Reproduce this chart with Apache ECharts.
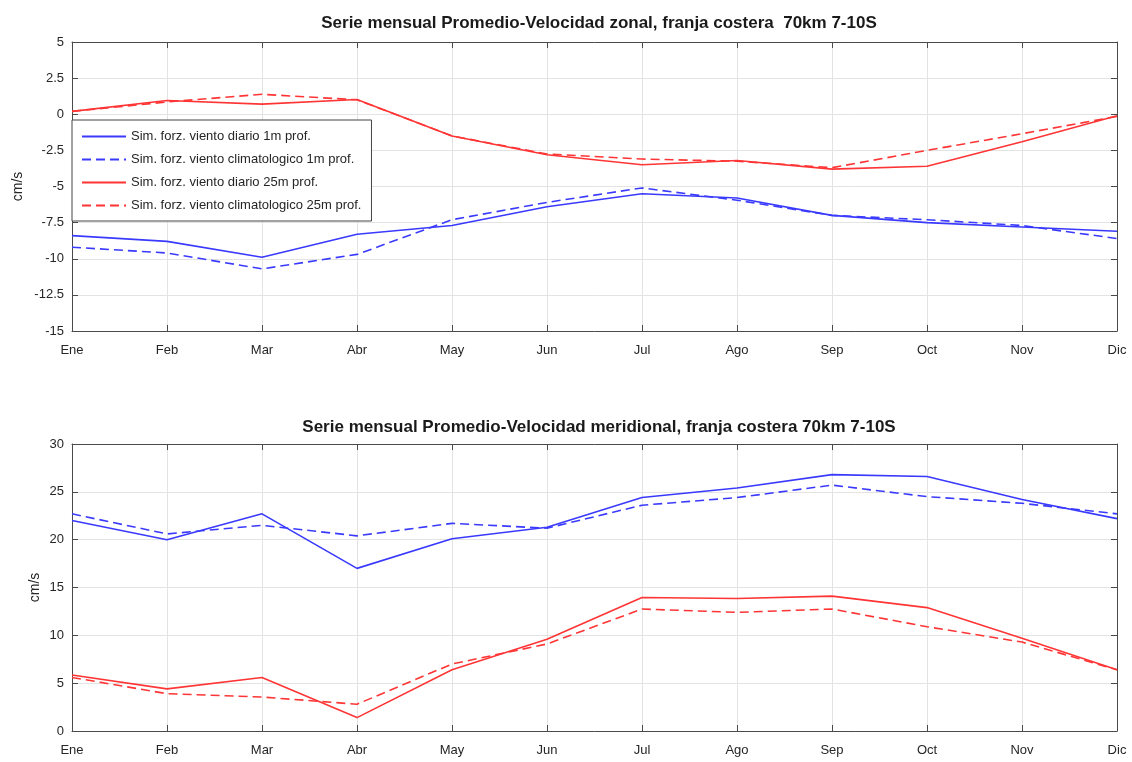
<!DOCTYPE html>
<html>
<head>
<meta charset="utf-8">
<script src="https://cdn.jsdelivr.net/npm/echarts@6/dist/echarts.min.js"></script>
<style>
  html, body { margin: 0; padding: 0; background: #fff; }
  #chart { width: 1132px; height: 762px; }
</style>
</head>
<body>
<div id="chart"></div>
<script>
// Monthly series, coastal strip 70 km, 7-10S
const months = ['Ene', 'Feb', 'Mar', 'Abr', 'May', 'Jun', 'Jul', 'Ago', 'Sep', 'Oct', 'Nov', 'Dic'];

const seriesNames = [
  'Sim. forz. viento diario 1m prof.',
  'Sim. forz. viento climatologico 1m prof.',
  'Sim. forz. viento diario 25m prof.',
  'Sim. forz. viento climatologico 25m prof.'
];

// Zonal velocity (cm/s)
const zonalDiario1m   = [-8.4, -8.8, -9.9, -8.3, -7.7, -6.4, -5.5, -5.8, -7.0, -7.5, -7.8, -8.1];
const zonalClima1m    = [-9.2, -9.6, -10.7, -9.7, -7.3, -6.1, -5.1, -5.95, -7.0, -7.3, -7.7, -8.6];
const zonalDiario25m  = [0.2, 0.95, 0.7, 1.02, -1.5, -2.8, -3.5, -3.2, -3.8, -3.6, -1.9, -0.1];
const zonalClima25m   = [0.2, 0.85, 1.38, 1.0, -1.5, -2.75, -3.1, -3.25, -3.7, -2.5, -1.35, -0.15];

// Meridional velocity (cm/s)
const merDiario1m     = [22.0, 20.0, 22.7, 17.0, 20.1, 21.3, 24.4, 25.4, 26.8, 26.6, 24.2, 22.2];
const merClima1m      = [22.7, 20.6, 21.5, 20.4, 21.7, 21.2, 23.6, 24.4, 25.7, 24.5, 23.8, 22.7];
const merDiario25m    = [5.85, 4.4, 5.6, 1.4, 6.4, 9.6, 13.95, 13.85, 14.1, 12.9, 9.7, 6.4];
const merClima25m     = [5.6, 3.9, 3.55, 2.8, 7.0, 9.1, 12.75, 12.4, 12.75, 10.9, 9.3, 6.4];

const zonalTicks = { min: -15, max: 5, interval: 2.5 };
const merTicks   = { min: 0, max: 30, interval: 5 };

const titles = [
  'Serie mensual Promedio-Velocidad zonal, franja costera  70km 7-10S',
  'Serie mensual Promedio-Velocidad meridional, franja costera 70km 7-10S'
];

const BLUE = '#3a3aff';
const RED = '#ff3535';
const AXIS = '#4a4a4a';
const TEXT = '#262626';
const FONT = '"Liberation Sans", Arial, sans-serif';

function xAxes(gridIndex) {
  const base = {
    type: 'category',
    data: months,
    gridIndex: gridIndex,
    boundaryGap: false,
    axisLine: { show: true, onZero: false, lineStyle: { color: AXIS, width: 1 } },
    axisTick: { show: true, inside: true, length: 6, lineStyle: { color: AXIS } }
  };
  return [
    Object.assign({}, base, {
      position: 'bottom',
      axisLabel: { color: TEXT, fontSize: 13, fontFamily: FONT, margin: 13 },
      splitLine: { show: true, lineStyle: { color: '#e3e3e3', width: 1 } }
    }),
    Object.assign({}, base, {
      position: 'top',
      axisLabel: { show: false },
      splitLine: { show: false }
    })
  ];
}

function yAxes(gridIndex, ticks, nameGap) {
  const base = {
    type: 'value',
    gridIndex: gridIndex,
    min: ticks.min,
    max: ticks.max,
    interval: ticks.interval,
    axisLine: { show: true, onZero: false, lineStyle: { color: AXIS, width: 1 } },
    axisTick: { show: true, inside: true, length: 6, lineStyle: { color: AXIS } }
  };
  return [
    Object.assign({}, base, {
      position: 'left',
      name: 'cm/s',
      nameLocation: 'middle',
      nameGap: nameGap,
      nameMoveOverlap: false,
      nameTextStyle: { color: TEXT, fontSize: 14, fontFamily: FONT },
      axisLabel: { color: TEXT, fontSize: 13, fontFamily: FONT, margin: 8 },
      splitLine: { show: true, lineStyle: { color: '#e3e3e3', width: 1 } }
    }),
    Object.assign({}, base, {
      position: 'right',
      axisLabel: { show: false },
      splitLine: { show: false }
    })
  ];
}

function line(name, data, color, dashed, xi, yi) {
  return {
    name: name,
    type: 'line',
    data: data,
    xAxisIndex: xi,
    yAxisIndex: yi,
    symbol: 'none',
    silent: true,
    animation: false,
    lineStyle: { color: color, width: 1.6, type: dashed ? [9, 5] : 'solid' },
    itemStyle: { color: color },
    z: dashed ? 3 : 4
  };
}

const chart = echarts.init(document.getElementById('chart'), null, { renderer: 'canvas' });

chart.setOption({
  backgroundColor: '#ffffff',
  animation: false,
  title: [
    { text: titles[0], left: 594, top: 10, textAlign: 'center',
      textStyle: { fontSize: 17, fontWeight: 'bold', color: '#1a1a1a', fontFamily: FONT } },
    { text: titles[1], left: 594, top: 414, textAlign: 'center',
      textStyle: { fontSize: 17, fontWeight: 'bold', color: '#1a1a1a', fontFamily: FONT } }
  ],
  grid: [
    { left: 72, right: 15, top: 42, height: 289, containLabel: false },
    { left: 72, right: 15, top: 444, height: 287, containLabel: false }
  ],
  legend: {
    data: seriesNames,
    orient: 'vertical',
    left: 72,
    top: 120,
    itemWidth: 44,
    itemHeight: 10,
    itemGap: 10,
    padding: [10, 10, 9, 9],
    backgroundColor: '#ffffff',
    borderColor: '#444',
    borderWidth: 1,
    selectedMode: false,
    itemStyle: { opacity: 0 },
    textStyle: { color: TEXT, fontSize: 13, fontFamily: FONT },
    z: 10
  },
  xAxis: xAxes(0).concat(xAxes(1)),
  yAxis: yAxes(0, zonalTicks, 47).concat(yAxes(1, merTicks, 30)),
  series: [
    line(seriesNames[0], zonalDiario1m, BLUE, false, 0, 0),
    line(seriesNames[1], zonalClima1m, BLUE, true, 0, 0),
    line(seriesNames[2], zonalDiario25m, RED, false, 0, 0),
    line(seriesNames[3], zonalClima25m, RED, true, 0, 0),
    line(seriesNames[0], merDiario1m, BLUE, false, 2, 2),
    line(seriesNames[1], merClima1m, BLUE, true, 2, 2),
    line(seriesNames[2], merDiario25m, RED, false, 2, 2),
    line(seriesNames[3], merClima25m, RED, true, 2, 2)
  ]
});
</script>
</body>
</html>
